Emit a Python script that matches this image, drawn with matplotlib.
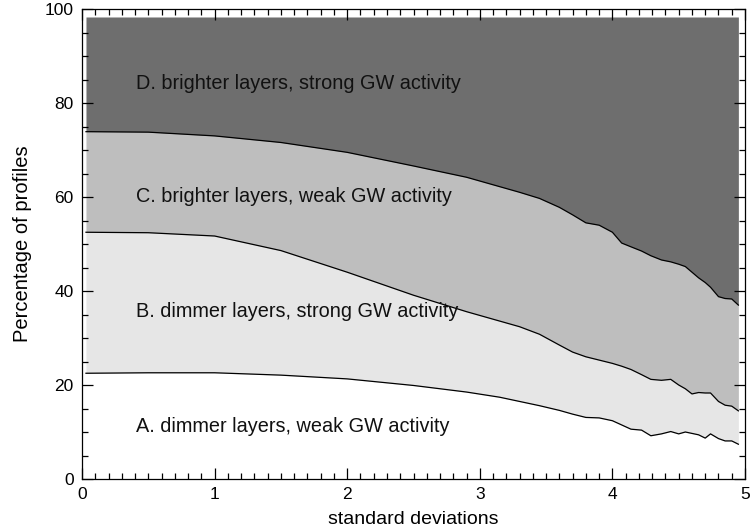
import numpy as np
import matplotlib.pyplot as plt

# standard deviation threshold (x) and cumulative percentage boundaries
x_sd = [0.03, 0.5, 1.0, 1.5, 2.0, 2.5, 2.9, 3.15, 3.3, 3.45, 3.6, 3.7, 3.8, 3.9,
        4.0, 4.07, 4.14, 4.22, 4.29, 4.37, 4.44, 4.5, 4.55, 4.6, 4.65, 4.7,
        4.74, 4.8, 4.85, 4.9, 4.95]

# top of A (dimmer, weak GW)
top_a = [22.5, 22.6, 22.6, 22.1, 21.3, 19.9, 18.5, 17.4, 16.5, 15.6, 14.6, 13.8,
         13.1, 13.0, 12.4, 11.5, 10.6, 10.4, 9.2, 9.6, 10.1, 9.6, 10.0, 9.7,
         9.4, 8.7, 9.6, 8.6, 8.1, 8.1, 7.4]

# top of B (dimmer, strong GW)
top_b = [52.5, 52.4, 51.7, 48.6, 44.0, 39.1, 35.6, 33.6, 32.4, 30.8, 28.5, 27.0,
         26.0, 25.3, 24.6, 24.0, 23.3, 22.2, 21.2, 21.0, 21.2, 20.0, 19.2, 18.1,
         18.4, 18.3, 18.3, 16.5, 15.7, 15.5, 14.5]

# top of C (brighter, weak GW)
top_c = [73.9, 73.8, 73.0, 71.6, 69.5, 66.6, 64.2, 62.2, 61.0, 59.7, 57.8, 56.2,
         54.5, 54.0, 52.5, 50.2, 49.4, 48.5, 47.5, 46.6, 46.2, 45.7, 45.2, 44.0,
         42.8, 41.8, 40.8, 38.8, 38.4, 38.3, 37.0]

top_d = 98.3

labels = ["A. dimmer layers, weak GW activity",
          "B. dimmer layers, strong GW activity",
          "C. brighter layers, weak GW activity",
          "D. brighter layers, strong GW activity"]
label_y = [11.1, 35.6, 60.0, 84.2]

plt.rcParams['font.family'] = ['Liberation Sans', 'DejaVu Sans']

fig = plt.figure(figsize=(7.5, 5.31), dpi=100)
ax = fig.add_axes([82 / 750, 1 - 479 / 531, 663 / 750, 470 / 531])

x = np.array(x_sd)
ax.fill_between(x, 0, top_a, color='white', lw=0)
ax.fill_between(x, top_a, top_b, color='#e6e6e6', lw=0)
ax.fill_between(x, top_b, top_c, color='#bebebe', lw=0)
ax.fill_between(x, top_c, top_d, color='#6e6e6e', lw=0)

for yb in (top_a, top_b, top_c):
    ax.plot(x, yb, color='black', lw=0.9)

for txt, yy in zip(labels, label_y):
    ax.text(0.41, yy, txt, fontsize=14.3, va='center', ha='left', color='#111111')

ax.set_xlim(0, 5)
ax.set_ylim(0, 100)
ax.set_xticks(range(6))
ax.set_xticks(np.arange(0, 5.01, 0.1), minor=True)
ax.set_yticks(range(0, 101, 20))
ax.set_yticks(range(0, 101, 5), minor=True)
ax.tick_params(which='both', direction='in', top=True, right=True,
               labelsize=12.5, width=0.9)
ax.tick_params(which='major', length=8, pad=6)
ax.tick_params(which='minor', length=4)
for sp in ax.spines.values():
    sp.set_linewidth(0.9)

ax.set_xlabel('standard deviations', fontsize=14, labelpad=6)
ax.set_ylabel('Percentage of profiles', fontsize=14.5, labelpad=9)

fig.savefig('out.png', dpi=100)
